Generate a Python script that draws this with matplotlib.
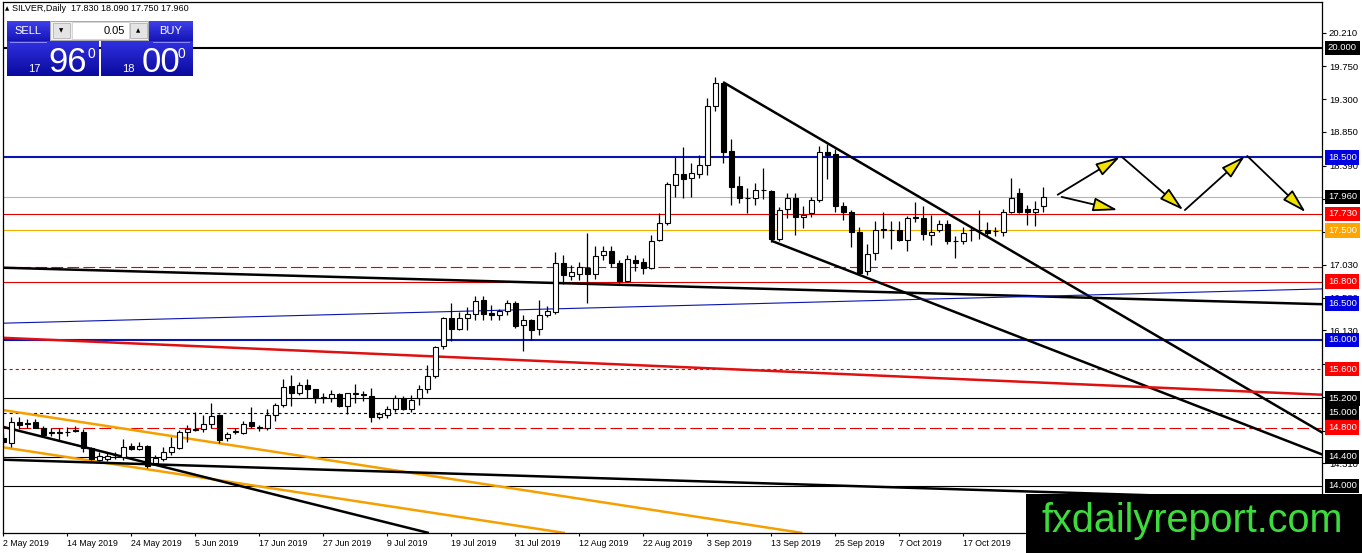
import numpy as np
import matplotlib
matplotlib.use("Agg")
import matplotlib.pyplot as plt
from matplotlib.patches import Rectangle, FancyArrowPatch
from matplotlib.colors import LinearSegmentedColormap
import matplotlib.transforms as mtransforms

plt.rcParams['lines.scale_dashes'] = False

# ---------------- DATA ----------------
opens = [14.66, 14.59, 14.88, 14.86, 14.87, 14.79, 14.74, 14.74, 14.74, 14.77,
         14.74, 14.52, 14.36, 14.37, 14.42, 14.40, 14.55, 14.51, 14.55, 14.32,
         14.37, 14.46, 14.52, 14.74, 14.77, 14.78, 14.85, 14.97, 14.66, 14.74,
         14.73, 14.87, 14.80, 14.79, 14.97, 15.11, 15.37, 15.28, 15.39, 15.33,
         15.21, 15.21, 15.26, 15.10, 15.26, 15.26, 15.23, 14.94, 14.97, 15.06,
         15.20, 15.06, 15.20, 15.33, 15.50, 15.92, 16.30, 16.15, 16.30, 16.36,
         16.55, 16.37, 16.34, 16.40, 16.50, 16.20, 16.28, 16.15, 16.34, 16.39,
         17.05, 16.87, 16.91, 16.99, 16.90, 17.16, 17.22, 17.06, 16.81, 17.10,
         17.07, 16.98, 17.37, 17.60, 18.12, 18.27, 18.22, 18.28, 18.40, 19.21,
         19.52, 18.59, 18.11, 17.94, 17.94, 18.06, 18.04, 17.39, 17.79, 17.95,
         17.68, 17.74, 17.92, 18.58, 18.55, 17.84, 17.76, 17.48, 16.95, 17.19,
         17.51, 17.50, 17.51, 17.37, 17.67, 17.67, 17.44, 17.51, 17.59, 17.35,
         17.35, 17.50, 17.50, 17.50, 17.49, 17.48, 17.75, 18.01, 17.79, 17.75,
         17.83]
highs = [14.72, 14.95, 14.94, 14.92, 14.92, 14.82, 14.79, 14.79, 14.81, 14.82,
         14.78, 14.54, 14.46, 14.45, 14.47, 14.64, 14.59, 14.60, 14.56, 14.42,
         14.53, 14.67, 14.77, 14.84, 15.02, 14.97, 15.13, 14.98, 14.74, 14.79,
         14.89, 15.08, 14.84, 15.05, 15.14, 15.47, 15.52, 15.43, 15.46, 15.33,
         15.27, 15.32, 15.27, 15.28, 15.40, 15.30, 15.34, 15.02, 15.10, 15.25,
         15.23, 15.25, 15.38, 15.66, 15.92, 16.32, 16.51, 16.39, 16.45, 16.60,
         16.60, 16.48, 16.43, 16.55, 16.53, 16.34, 16.29, 16.55, 16.47, 17.20,
         17.16, 17.03, 17.07, 17.46, 17.29, 17.29, 17.29, 17.10, 17.16, 17.16,
         17.12, 17.44, 17.74, 18.17, 18.51, 18.65, 18.43, 18.53, 19.32, 19.60,
         19.55, 18.75, 18.25, 18.08, 18.15, 18.35, 18.05, 17.82, 18.02, 18.02,
         17.83, 17.96, 18.66, 18.69, 18.61, 17.89, 17.78, 17.55, 17.31, 17.63,
         17.76, 17.63, 17.63, 17.70, 17.89, 17.83, 17.71, 17.64, 17.64, 17.42,
         17.55, 17.55, 17.78, 17.61, 17.55, 17.80, 18.22, 18.08, 17.85, 17.90,
         18.09]
lows = [14.56, 14.53, 14.78, 14.80, 14.79, 14.67, 14.69, 14.62, 14.68, 14.74,
        14.47, 14.36, 14.34, 14.34, 14.37, 14.36, 14.49, 14.49, 14.25, 14.29,
        14.34, 14.43, 14.51, 14.60, 14.75, 14.74, 14.79, 14.59, 14.62, 14.71,
        14.71, 14.80, 14.76, 14.77, 14.89, 15.08, 15.10, 15.25, 15.21, 15.14,
        15.13, 15.15, 15.08, 14.99, 15.14, 15.16, 14.88, 14.92, 14.93, 15.02,
        15.04, 15.02, 15.11, 15.28, 15.48, 15.87, 15.99, 16.13, 16.13, 16.27,
        16.27, 16.28, 16.28, 16.34, 16.16, 15.85, 16.00, 16.07, 16.31, 16.35,
        16.77, 16.82, 16.82, 16.50, 16.83, 17.09, 17.00, 16.78, 16.79, 16.94,
        16.90, 16.97, 17.36, 17.58, 17.96, 17.94, 17.96, 18.22, 18.26, 19.13,
        18.42, 17.85, 17.87, 17.74, 17.85, 17.93, 17.34, 17.36, 17.67, 17.44,
        17.54, 17.69, 17.89, 18.20, 17.76, 17.65, 17.27, 16.90, 16.89, 17.10,
        17.40, 17.24, 17.35, 17.22, 17.62, 17.37, 17.30, 17.48, 17.31, 17.12,
        17.31, 17.35, 17.39, 17.42, 17.43, 17.42, 17.74, 17.74, 17.58, 17.56,
        17.75]
closes = [14.60, 14.88, 14.83, 14.85, 14.80, 14.70, 14.73, 14.73, 14.74, 14.76,
          14.52, 14.37, 14.41, 14.41, 14.43, 14.53, 14.51, 14.55, 14.27, 14.38,
          14.46, 14.53, 14.74, 14.78, 14.78, 14.85, 14.96, 14.63, 14.71, 14.75,
          14.85, 14.82, 14.81, 14.97, 15.11, 15.36, 15.28, 15.39, 15.33, 15.20,
          15.22, 15.26, 15.09, 15.27, 15.27, 15.24, 14.94, 14.99, 15.05, 15.20,
          15.06, 15.18, 15.33, 15.50, 15.91, 16.30, 16.15, 16.30, 16.36, 16.54,
          16.36, 16.34, 16.40, 16.50, 16.19, 16.27, 16.14, 16.34, 16.40, 17.06,
          16.89, 16.93, 17.00, 16.90, 17.15, 17.22, 17.06, 16.81, 17.11, 17.06,
          16.98, 17.35, 17.60, 18.13, 18.27, 18.20, 18.29, 18.40, 19.21, 19.52,
          18.58, 18.10, 17.94, 17.95, 18.05, 18.05, 17.39, 17.78, 17.95, 17.68,
          17.71, 17.92, 18.58, 18.53, 17.84, 17.76, 17.48, 16.92, 17.18, 17.51,
          17.52, 17.51, 17.37, 17.67, 17.68, 17.45, 17.48, 17.59, 17.35, 17.36,
          17.47, 17.51, 17.51, 17.47, 17.49, 17.75, 17.95, 17.76, 17.76, 17.80,
          17.96]

date_labels = ["2 May 2019", "14 May 2019", "24 May 2019", "5 Jun 2019",
               "17 Jun 2019", "27 Jun 2019", "9 Jul 2019", "19 Jul 2019",
               "31 Jul 2019", "12 Aug 2019", "22 Aug 2019", "3 Sep 2019",
               "13 Sep 2019", "25 Sep 2019", "7 Oct 2019", "17 Oct 2019"]
bars_per_label = 8

price_ticks = [20.21, 19.75, 19.30, 18.85, 18.39, 17.93, 17.48, 17.03,
               16.58, 16.13, 15.67, 15.22, 14.76, 14.31, 13.85]
# tick labels completely hidden behind level labels in the terminal
hidden_ticks = [17.93, 17.48, 15.22]

# horizontal levels
level_values = [20.0, 18.5, 17.96, 17.73, 17.5, 17.0, 16.8, 16.0, 15.6,
                15.2, 15.0, 14.8, 14.4, 14.0]
level_styles = ['thick_black', 'thick_blue', 'grey', 'red', 'gold', 'red_dash',
                'red', 'thick_blue', 'red_dot', 'black', 'black_dot', 'red_dash',
                'black', 'black']

# price labels on the right axis
label_values = [20.0, 18.5, 17.96, 17.73, 17.5, 16.8, 16.5, 16.0, 15.6,
                15.2, 15.0, 14.8, 14.4, 14.0]
label_colors = ['black', '#0000e0', 'black', '#ff0000', '#ffa500', '#ff0000',
                '#0000e0', '#0000e0', '#ff0000', 'black', 'black', '#ff0000',
                'black', 'black']

# trend lines: (bar0, price0, bar1, price1)
trend_lines = [
    (90.0, 19.53, 164.9, 14.73),     # wedge top
    (96.0, 17.36, 164.9, 14.43),     # wedge bottom
    (-0.04, 16.99, 164.9, 16.49),    # long black
    (-0.04, 16.23, 164.9, 16.70),    # thin blue
    (-0.04, 16.03, 164.9, 15.25),    # thick red
    (-0.04, 15.04, 99.9, 13.356),    # orange upper
    (-0.04, 14.53, 70.2, 13.356),    # orange lower
    (-0.04, 14.81, 53.2, 13.356),    # steep black
    (-0.04, 14.36, 164.9, 13.80),    # gentle black
]
trend_styles = ['black', 'black', 'black', 'blue', 'red', 'orange', 'orange',
                'black', 'black']

# projection arrows: (bar0, price0, bar1, price1)
arrows = [
    (131.8, 17.99, 139.6, 18.51),
    (132.3, 17.96, 139.3, 17.78),
    (139.8, 18.51, 147.5, 17.78),
    (147.7, 17.78, 155.2, 18.52),
    (155.5, 18.52, 162.8, 17.75),
]

# ---------------- FIGURE ----------------
W, H, DPI = 1362, 553, 100
fig = plt.figure(figsize=(W / DPI, H / DPI), dpi=DPI)
fig.patch.set_facecolor('white')
PL, PR, PT, PB = 3, 1322, 2, 533
ax = fig.add_axes([PL / W, 1 - PB / H, (PR - PL) / W, (PB - PT) / H])
ax.set_xlim(-0.04, 164.84)
ax.set_ylim(13.356, 20.630)
for s in ax.spines.values():
    s.set_linewidth(0.9)
    s.set_color('black')

style_map = {
    'thick_black': dict(color='black', lw=1.5, ls='-'),
    'thick_blue': dict(color='#0a14b0', lw=1.5, ls='-'),
    'grey': dict(color='#b4b4b4', lw=0.8, ls='-'),
    'red': dict(color='#e00000', lw=0.8, ls='-'),
    'gold': dict(color='#f0b000', lw=0.8, ls='-'),
    'red_dash': dict(color='#e00000', lw=0.8, ls=(0, (8.5, 3.0))),
    'red_dot': dict(color='#e00000', lw=0.8, ls=(0, (2.2, 2.2))),
    'black': dict(color='black', lw=0.8, ls='-'),
    'black_dot': dict(color='black', lw=0.8, ls=(0, (2.2, 2.2))),
}
for v, st in zip(level_values, level_styles):
    ax.axhline(v, zorder=2, **style_map[st])

trend_map = {
    'black': dict(color='black', lw=1.8),
    'blue': dict(color='#0a14b0', lw=0.8),
    'red': dict(color='#e01010', lw=1.8),
    'orange': dict(color='#f5a000', lw=1.8),
}
for (x0, y0, x1, y1), st in zip(trend_lines, trend_styles):
    ax.plot([x0, x1], [y0, y1], zorder=2, solid_capstyle='butt', **trend_map[st])

# candles
o = np.array(opens); h = np.array(highs); l = np.array(lows); c = np.array(closes)
idx = np.arange(len(o))
bottoms = np.minimum(o, c)
heights = np.maximum(np.abs(c - o), 0.004)
colors = ['white' if c[i] >= o[i] else 'black' for i in idx]
ax.vlines(idx, l, h, color='black', lw=0.9, zorder=3)
ax.bar(idx, heights, 0.62, bottoms, color=colors, edgecolor='black', lw=0.8, zorder=4)

# arrows
for x0, y0, x1, y1 in arrows:
    ax.add_patch(FancyArrowPatch((x0, y0), (x1, y1),
                                 arrowstyle='-|>,head_length=1.5,head_width=0.42',
                                 mutation_scale=10, fc='#f2e200', ec='black',
                                 lw=1.3, zorder=6, shrinkA=0, shrinkB=0))

# axes ticks
ax.yaxis.tick_right()
ax.set_yticks(price_ticks)
ax.set_yticklabels(['' if v in hidden_ticks else '%.3f' % v for v in price_ticks])
ax.tick_params(axis='y', length=3, width=0.8, pad=2, labelsize=6.8)
ax.set_xticks(idx[::bars_per_label][:len(date_labels)])
ax.set_xticklabels(date_labels, ha='left')
ax.tick_params(axis='x', length=2, width=0.8, pad=2.5, labelsize=6.3)
for t in ax.get_xticklabels() + ax.get_yticklabels():
    t.set_family('Liberation Sans')

trans = mtransforms.blended_transform_factory(ax.transAxes, ax.transData)
for v, col in zip(label_values, label_colors):
    ax.text(1.0045, v, '%.3f' % v, transform=trans, fontsize=6.8,
            family='Liberation Sans', color='white', va='center', ha='left',
            zorder=7, clip_on=False,
            bbox=dict(boxstyle='square,pad=0.28', fc=col, ec='none'))

# ---------------- OVERLAY (trade panel, watermark) ----------------
ov = fig.add_axes([0, 0, 1, 1], zorder=10)
ov.patch.set_alpha(0)
ov.axis('off')

grad = np.linspace(0, 1, 64).reshape(-1, 1)
btn_cmap = LinearSegmentedColormap.from_list('btn', ['#4040ec', '#1212b4'])
box_cmap = LinearSegmentedColormap.from_list('box', ['#3030e0', '#0a0a9e'])


def grad_box(x0, y0, x1, y1, cmap):
    ov.imshow(grad, extent=(x0, x1, y1, y0), cmap=cmap, aspect='auto',
              interpolation='bilinear', zorder=1)


grad_box(6.7, 20.7, 49.3, 41.7, btn_cmap)
grad_box(149, 20.7, 193, 41.7, btn_cmap)
grad_box(6.7, 41.7, 98.7, 76, box_cmap)
grad_box(101, 41.7, 193, 76, box_cmap)
ov.plot([10, 46], [41.5, 41.5], color='#8c8cff', lw=0.7, zorder=2)
ov.plot([153, 189], [41.5, 41.5], color='#8c8cff', lw=0.7, zorder=2)

ov.add_patch(Rectangle((50, 20.7), 98, 19, fc='#f0f0f0', ec='#a8a8a8', lw=0.7, zorder=1))
ov.add_patch(Rectangle((53, 22.5), 17, 15.5, fc='#e4e4e4', ec='#b4b4b4', lw=0.6, zorder=2))
ov.add_patch(Rectangle((71.5, 21.5), 57, 17.5, fc='white', ec='#c8c8c8', lw=0.5, zorder=2))
ov.add_patch(Rectangle((130, 22.5), 17, 15.5, fc='#e4e4e4', ec='#b4b4b4', lw=0.6, zorder=2))
ov.text(61.5, 30.5, '\u25bc', fontsize=4, ha='center', va='center', family='DejaVu Sans', zorder=3)
ov.text(138.5, 30.5, '\u25b2', fontsize=4, ha='center', va='center', family='DejaVu Sans', zorder=3)
ov.text(124.5, 30.5, '0.05', fontsize=8, ha='right', va='center', family='Liberation Sans', zorder=3)

ov.text(27.5, 31, 'SELL', fontsize=8, color='white', ha='center', va='center',
        family='Liberation Sans', zorder=3)
ov.text(171, 31, 'BUY', fontsize=8, color='white', ha='center', va='center',
        family='Liberation Sans', zorder=3)

for x_small, x_big, x_sup, s_small, s_big in [(28, 48, 87, '17', '96'),
                                              (122.5, 141.5, 177.5, '18', '00')]:
    ov.text(x_small, 71.8, s_small, fontsize=8, color='white', ha='left',
            va='baseline', family='Liberation Sans', zorder=3)
    ov.text(x_big, 71.8, s_big, fontsize=25, color='white', ha='left',
            va='baseline', family='Liberation Sans', zorder=3)
    ov.text(x_sup, 46.5, '0', fontsize=10, color='white', ha='left',
            va='top', family='Liberation Sans', zorder=3)

ov.text(5, 8.5, '\u25b2', fontsize=4, ha='left', va='center', family='DejaVu Sans')
ov.text(12, 8.5, 'SILVER,Daily  17.830 18.090 17.750 17.960', fontsize=6.5,
        ha='left', va='center', family='Liberation Sans')

ov.add_patch(Rectangle((1026, 494), W - 1026, H - 494, fc='black', ec='none', zorder=5))
ov.text(1042, 531.5, 'fxdailyreport.com', fontsize=28.5, color='#3cdc3c',
        ha='left', va='baseline', family='Liberation Sans', zorder=6)

ov.set_xlim(0, W)
ov.set_ylim(H, 0)

fig.savefig('out.png', dpi=DPI)
